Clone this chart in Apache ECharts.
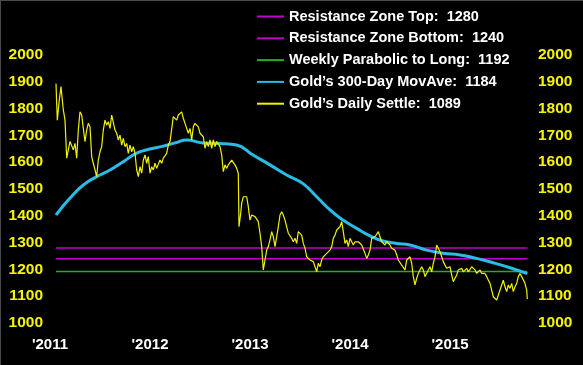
<!DOCTYPE html>
<html>
<head>
<meta charset="utf-8">
<script src="https://cdn.jsdelivr.net/npm/echarts@6/dist/echarts.min.js"></script>
<style>
html,body{margin:0;padding:0;background:#000;}
#wrap{position:relative;width:583px;height:365px;}
#c{width:583px;height:365px;}
#edge{position:absolute;left:0;top:0;width:583px;height:365px;box-shadow:inset 1px 1px 0 #4a4a4a;pointer-events:none;}
</style>
</head>
<body>
<div id="wrap"><div id="c"></div><div id="edge"></div></div>
<script>
// Legend labels and their values
var legendLabels = ["Resistance Zone Top", "Resistance Zone Bottom", "Weekly Parabolic to Long", "Gold\u2019s 300-Day MovAve", "Gold\u2019s Daily Settle"];
var legendValues = [1280, 1240, 1192, 1184, 1089];

// x-axis tick labels (fractional year positions)
var yearTicks = [2011, 2012, 2013, 2014, 2015];
var yTicks = [1000, 1100, 1200, 1300, 1400, 1500, 1600, 1700, 1800, 1900, 2000];

// horizontal levels
var resistanceTop = 1280;
var resistanceBottom = 1240;
var parabolicLevel = 1192;
var levelSpan = [2011.06, 2015.773];

// Gold's 300-day moving average
var maYears = [2011.06,2011.20,2011.333,2011.467,2011.60,2011.733,2011.867,2012.00,2012.133,2012.25,2012.367,2012.53,2012.70,2012.867,2013.03,2013.20,2013.367,2013.53,2013.667,2013.80,2013.93,2014.067,2014.20,2014.33,2014.467,2014.60,2014.767,2014.93,2015.10,2015.267,2015.43,2015.60,2015.773];
var maValues = [1403,1466,1515,1546,1571,1602,1634,1649,1660,1672,1683,1672,1670,1664,1627,1590,1552,1520,1471,1422,1384,1353,1325,1306,1297,1291,1272,1260,1254,1241,1225,1206,1184];

// Gold's daily settle
var settleYears = [2011.060,2011.067,2011.073,2011.093,2011.110,2011.133,2011.150,2011.167,2011.183,2011.200,2011.217,2011.233,2011.250,2011.267,2011.283,2011.300,2011.317,2011.333,2011.350,2011.367,2011.383,2011.400,2011.417,2011.433,2011.450,2011.467,2011.483,2011.500,2011.517,2011.533,2011.550,2011.567,2011.583,2011.600,2011.617,2011.633,2011.650,2011.667,2011.683,2011.700,2011.717,2011.733,2011.750,2011.767,2011.783,2011.800,2011.817,2011.833,2011.850,2011.867,2011.883,2011.900,2011.917,2011.933,2011.950,2011.967,2011.983,2012.000,2012.017,2012.033,2012.050,2012.067,2012.083,2012.100,2012.117,2012.133,2012.150,2012.167,2012.183,2012.200,2012.233,2012.250,2012.267,2012.283,2012.300,2012.317,2012.333,2012.350,2012.367,2012.383,2012.400,2012.417,2012.433,2012.450,2012.467,2012.483,2012.500,2012.517,2012.533,2012.550,2012.567,2012.583,2012.600,2012.617,2012.633,2012.650,2012.667,2012.683,2012.700,2012.717,2012.733,2012.750,2012.767,2012.783,2012.800,2012.817,2012.833,2012.850,2012.867,2012.883,2012.890,2012.907,2012.917,2012.933,2012.950,2012.967,2012.983,2013.000,2013.017,2013.033,2013.050,2013.067,2013.083,2013.100,2013.117,2013.133,2013.150,2013.167,2013.183,2013.200,2013.217,2013.233,2013.250,2013.267,2013.283,2013.300,2013.317,2013.333,2013.350,2013.367,2013.383,2013.400,2013.417,2013.433,2013.450,2013.467,2013.483,2013.500,2013.517,2013.533,2013.550,2013.567,2013.583,2013.600,2013.617,2013.633,2013.650,2013.667,2013.683,2013.700,2013.717,2013.733,2013.750,2013.767,2013.783,2013.800,2013.817,2013.833,2013.850,2013.867,2013.883,2013.900,2013.917,2013.933,2013.950,2013.967,2013.983,2014.000,2014.017,2014.033,2014.050,2014.067,2014.083,2014.100,2014.117,2014.133,2014.150,2014.167,2014.183,2014.200,2014.217,2014.233,2014.250,2014.267,2014.283,2014.300,2014.317,2014.333,2014.350,2014.367,2014.383,2014.400,2014.417,2014.433,2014.450,2014.467,2014.483,2014.500,2014.517,2014.533,2014.550,2014.567,2014.583,2014.600,2014.617,2014.633,2014.650,2014.667,2014.683,2014.700,2014.717,2014.733,2014.750,2014.767,2014.783,2014.800,2014.817,2014.833,2014.850,2014.867,2014.883,2014.900,2014.917,2014.933,2014.950,2014.967,2014.983,2015.000,2015.017,2015.033,2015.050,2015.067,2015.083,2015.100,2015.117,2015.133,2015.150,2015.167,2015.183,2015.200,2015.217,2015.233,2015.250,2015.267,2015.283,2015.300,2015.317,2015.333,2015.350,2015.367,2015.383,2015.400,2015.417,2015.433,2015.450,2015.467,2015.483,2015.500,2015.517,2015.533,2015.550,2015.567,2015.583,2015.600,2015.617,2015.633,2015.650,2015.667,2015.683,2015.700,2015.717,2015.733,2015.750,2015.767,2015.773];
var settleValues = [1894,1820,1757,1832,1882,1795,1757,1615,1646,1677,1683,1646,1670,1615,1720,1788,1776,1726,1677,1720,1745,1732,1621,1596,1571,1546,1608,1639,1658,1720,1757,1739,1751,1726,1776,1782,1720,1708,1683,1701,1664,1689,1658,1670,1633,1664,1639,1658,1633,1571,1546,1583,1559,1608,1627,1596,1621,1559,1583,1571,1596,1577,1583,1608,1596,1615,1621,1633,1664,1677,1770,1776,1757,1776,1782,1788,1764,1745,1726,1708,1726,1683,1732,1745,1751,1732,1708,1714,1695,1652,1677,1658,1683,1652,1683,1658,1677,1670,1658,1627,1565,1590,1577,1590,1583,1608,1602,1590,1577,1559,1359,1409,1447,1471,1465,1471,1434,1384,1403,1409,1397,1403,1378,1335,1285,1198,1235,1272,1285,1310,1341,1322,1285,1322,1359,1403,1415,1403,1384,1359,1335,1330,1316,1303,1316,1297,1341,1347,1328,1297,1279,1247,1254,1235,1241,1229,1210,1191,1223,1210,1235,1247,1241,1260,1254,1272,1285,1316,1328,1347,1341,1359,1378,1341,1297,1310,1285,1316,1322,1291,1303,1297,1303,1297,1291,1297,1260,1241,1254,1272,1316,1310,1322,1328,1341,1322,1303,1310,1291,1303,1310,1291,1279,1285,1272,1254,1235,1229,1216,1210,1198,1235,1241,1247,1223,1173,1142,1167,1185,1198,1210,1198,1173,1179,1198,1210,1191,1223,1247,1291,1285,1266,1247,1229,1216,1204,1198,1210,1179,1154,1167,1179,1198,1191,1204,1191,1198,1204,1191,1198,1210,1216,1198,1185,1191,1198,1185,1179,1185,1173,1160,1148,1123,1098,1092,1086,1092,1123,1142,1160,1135,1117,1142,1129,1148,1117,1135,1148,1173,1185,1173,1167,1148,1123,1089];

function zip(xs, ys){ var out=[]; for(var i=0;i<xs.length;i++){ out.push([xs[i], ys[i]]); } return out; }
function flat(v){ return [[levelSpan[0], v],[levelSpan[1], v]]; }

var names = legendLabels.map(function(l,i){ return l + ":  " + legendValues[i]; });
var FONT = "'Liberation Sans', Arial, sans-serif";
var yLabel = {color: '#f5f500', fontWeight: 'bold', fontSize: 15.5, fontFamily: FONT,
  formatter: function(v){ return String(v); }};

var chart = echarts.init(document.getElementById('c'), null, {renderer:'canvas'});
chart.setOption({
  backgroundColor: '#000000',
  animation: false,
  grid: {left: 50, right: 53, top: 55, bottom: 42, containLabel: false},
  legend: {
    orient: 'vertical', left: 256, top: 9, padding: 0,
    itemWidth: 27, itemHeight: 14, itemGap: 6.8,
    itemStyle: {opacity: 0},
    lineStyle: {width: 2},
    textStyle: {color: '#ffffff', fontWeight: 'bold', fontSize: 14.5, fontFamily: FONT},
    data: names
  },
  xAxis: {
    type: 'value', min: 2011, max: 2015.8, interval: 1,
    axisLine: {show: false}, axisTick: {show: false}, splitLine: {show: false},
    axisLabel: {color: '#ffffff', fontWeight: 'bold', fontSize: 15, fontFamily: FONT, margin: 14,
      showMaxLabel: false,
      formatter: function(v){ return yearTicks.indexOf(v) >= 0 ? "'" + v : ''; }}
  },
  yAxis: [
    {type: 'value', position: 'left', min: yTicks[0], max: yTicks[yTicks.length-1], interval: 100,
     axisLine: {show: false}, axisTick: {show: false}, splitLine: {show: false},
     axisLabel: Object.assign({margin: 7}, yLabel)},
    {type: 'value', position: 'right', min: yTicks[0], max: yTicks[yTicks.length-1], interval: 100,
     axisLine: {show: false}, axisTick: {show: false}, splitLine: {show: false},
     axisLabel: Object.assign({margin: 8}, yLabel)}
  ],
  series: [
    {name: names[0], type: 'line', symbol: 'none', data: flat(resistanceTop), lineStyle: {color: '#c000c8', width: 1.5}, itemStyle: {color: '#c000c8'}},
    {name: names[1], type: 'line', symbol: 'none', data: flat(resistanceBottom), lineStyle: {color: '#c000c8', width: 1.5}, itemStyle: {color: '#c000c8'}},
    {name: names[2], type: 'line', symbol: 'none', data: flat(parabolicLevel), lineStyle: {color: '#20b020', width: 1.5}, itemStyle: {color: '#20b020'}},
    {name: names[3], type: 'line', symbol: 'none', smooth: true, data: zip(maYears, maValues), lineStyle: {color: '#28bce6', width: 3}, itemStyle: {color: '#28bce6'}},
    {name: names[4], type: 'line', symbol: 'none', data: zip(settleYears, settleValues), lineStyle: {color: '#f2f200', width: 1.2}, itemStyle: {color: '#f2f200'}}
  ]
});
</script>
</body>
</html>
